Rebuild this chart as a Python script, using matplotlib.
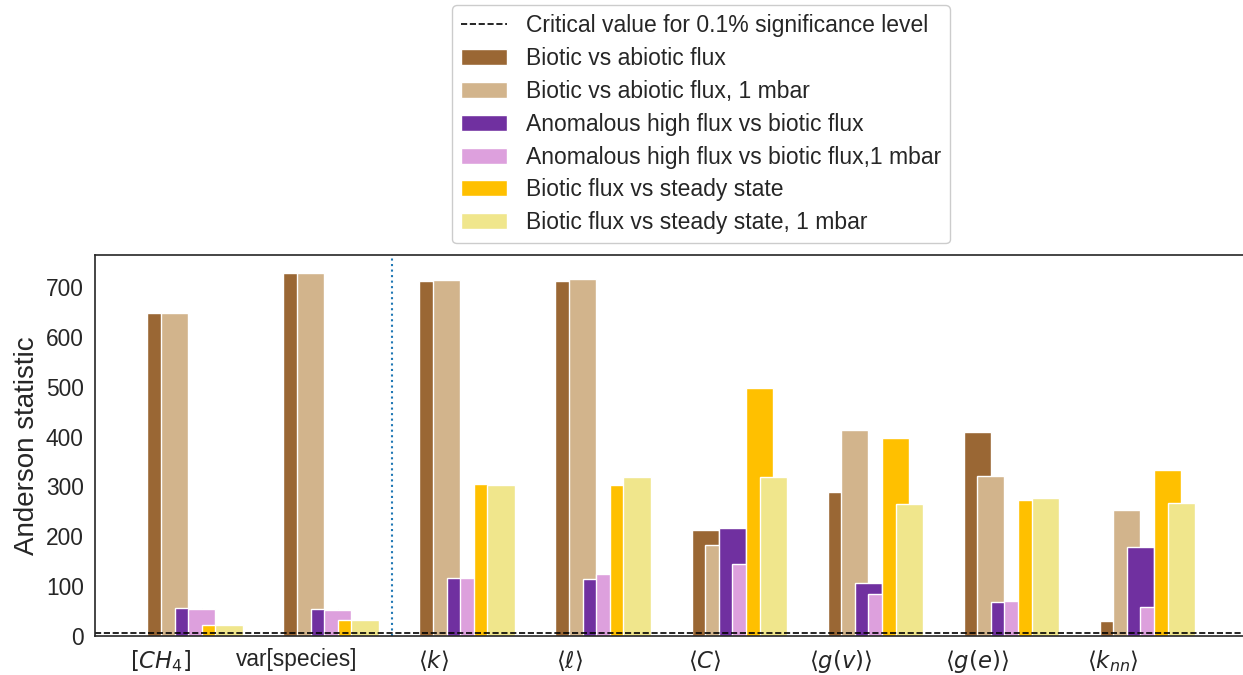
import numpy as np
import matplotlib
matplotlib.use("Agg")
import matplotlib.pyplot as plt

plt.rcParams['font.family'] = ['Liberation Sans', 'DejaVu Sans']
plt.rcParams['mathtext.fontset'] = 'dejavusans'
for key in ['text.color', 'axes.labelcolor', 'xtick.color', 'ytick.color']:
    plt.rcParams[key] = '#262626'

# Anderson-Darling k-sample statistic for each network measure
measures = [r'$[CH_4]$', 'var[species]', r'$\langle k\rangle$', r'$\langle \ell\rangle$',
            r'$\langle C\rangle$', r'$\langle g(v)\rangle$', r'$\langle g(e)\rangle$',
            r'$\langle k_{nn}\rangle$']

biotic_abiotic = [648, 728, 712, 712, 212, 288, 409, 30]
biotic_abiotic_1mbar = [648, 728, 715, 716, 182, 413, 322, 252]
anomalous_biotic = [56, 54, 117, 115, 216, 107, 68, 179]
anomalous_biotic_1mbar = [54, 52, 117, 125, 144, 84, 70, 58]
biotic_steady = [22, 32, 305, 303, 497, 397, 272, 334]
biotic_steady_1mbar = [22, 32, 303, 318, 318, 264, 277, 267]

critical_value = 6.546

series = [
    (biotic_abiotic, '#9a6734', 'Biotic vs abiotic flux'),
    (biotic_abiotic_1mbar, '#d2b48c', 'Biotic vs abiotic flux, 1 mbar'),
    (anomalous_biotic, '#7030a0', 'Anomalous high flux vs biotic flux'),
    (anomalous_biotic_1mbar, '#dda0dd', 'Anomalous high flux vs biotic flux,1 mbar'),
    (biotic_steady, '#ffc000', 'Biotic flux vs steady state'),
    (biotic_steady_1mbar, '#f0e68c', 'Biotic flux vs steady state, 1 mbar'),
]

fig = plt.figure(figsize=(12.43, 6.75), dpi=100)
ax = fig.add_axes([0.0764, 0.0578, 0.927, 0.5644])

x = np.arange(len(measures))
width = 0.2
handles = []
for i, (vals, col, lab) in enumerate(series):
    bars = ax.bar(x + 0.1 * i, vals, width, color=col, edgecolor='white',
                  linewidth=1, label=lab)
    handles.append(bars)

crit = ax.axhline(critical_value, color='black', linestyle='--', linewidth=1.2,
                  label='Critical value for 0.1% significance level')
ax.axvline(1.7, color='#1f77b4', linestyle=':', linewidth=1.5)

ax.set_xticks(x)
ax.set_xticklabels(measures, fontsize=16.4)
ax.set_yticks(np.arange(0, 800, 100))
ax.tick_params(axis='y', labelsize=16.4, length=0, pad=8)
ax.tick_params(axis='x', length=0, pad=9)
ax.set_ylabel('Anderson statistic', fontsize=20)

for s in ax.spines.values():
    s.set_color('#262626')
    s.set_linewidth(1.2)

fig.legend([crit] + handles, [h.get_label() for h in [crit] + handles],
           loc='upper center', bbox_to_anchor=(0.564, 0.9926), borderaxespad=0,
           fontsize=16.5, frameon=True, edgecolor='#cccccc', fancybox=True,
           framealpha=1, labelspacing=0.43)

fig.savefig('out.png', dpi=100)
